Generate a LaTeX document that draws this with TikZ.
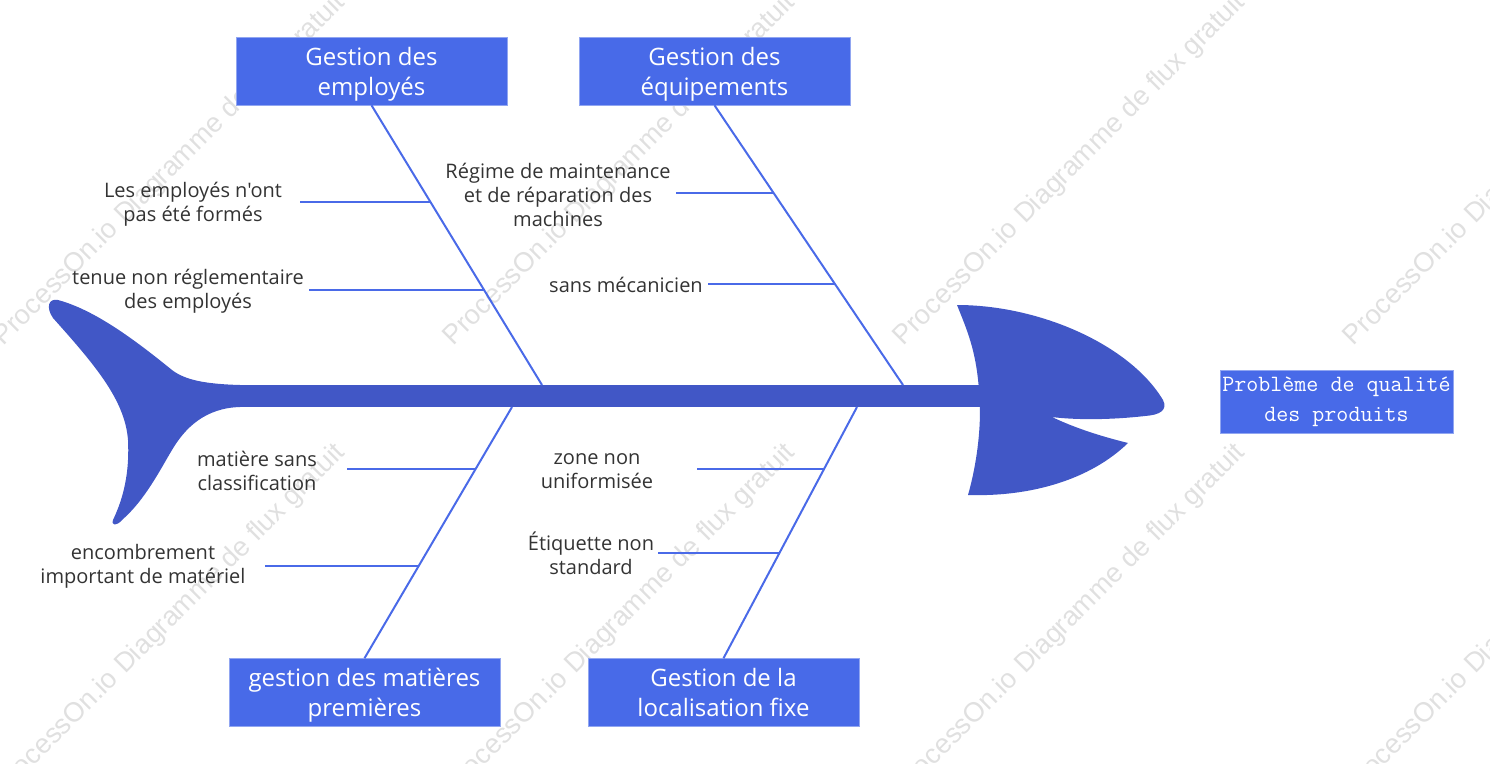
\documentclass[tikz,border=0pt]{standalone}
\usepackage{fontspec}
\setmainfont{Open Sans}
\newfontfamily\labfont{Open Sans}
\newfontfamily\wmfont{Liberation Sans}
\definecolor{fishblue}{HTML}{4157C6}
\definecolor{boxblue}{HTML}{486AE8}
\definecolor{bonecol}{HTML}{4A6AE8}
\definecolor{txt}{HTML}{333333}
\definecolor{wmgray}{HTML}{E0E0E0}
\newcommand\boxtxt[1]{\raisebox{-2.5pt}[\height][\depth]{\begin{tabular}{@{}c@{}}#1\end{tabular}}}
\begin{document}
\begin{tikzpicture}[x=0.75pt,y=-0.75pt,
  catbox/.style={fill=boxblue, draw=boxblue!60!white, line width=0.4pt, text=white,
    minimum width=203pt, minimum height=51pt, inner sep=0pt,
    font=\fontsize{18}{22.5}\selectfont},
  probbox/.style={fill=boxblue, draw=boxblue!60!white, line width=0.4pt, text=white,
    minimum width=175pt, minimum height=47pt, align=center, inner sep=0pt,
    font=\ttfamily\fontsize{17.5}{22.5}\selectfont},
  causetext/.style={text=txt, align=center, inner sep=0pt,
    font=\labfont\fontsize{15}{18}\selectfont},
  bone/.style={draw=bonecol, line width=1.5pt},
  fishbody/.style={fill=fishblue, draw=none},
  wmark/.style={text=wmgray, rotate=45, inner sep=0pt,
    font=\wmfont\fontsize{20.5}{22}\selectfont}]
\useasboundingbox (0,0) rectangle (1490,764);

% watermarks
\foreach \x in {0,450,900,1350}{
  \foreach \y in {170,620}{
    \node[wmark] (wm-\x-\y) at (\x+170,\y) {ProcessOn.io Diagramme de flux gratuit};
  }
}

% spine
\fill[fishbody] (230,385) rectangle (982,407);

% tail
\fill[fishbody] (240,385)
  .. controls (205,384) and (185,380) .. (172,370)
  .. controls (135,340) and (95,310) .. (58,300)
  .. controls (48,298) and (46,308) .. (53,318)
  .. controls (95,365) and (125,400) .. (128,440)
  .. controls (130,480) and (120,505) .. (113,520)
  .. controls (111,526) and (117,526) .. (122,520)
  .. controls (145,500) and (160,470) .. (172,450)
  .. controls (185,428) and (205,408) .. (240,407) -- cycle;

% head
\fill[fishbody] (957,305)
  .. controls (1040,305) and (1130,345) .. (1163,400)
  .. controls (1168,410) and (1160,415) .. (1145,416)
  .. controls (1110,420) and (1075,420) .. (1052,417)
  .. controls (1075,428) and (1100,436) .. (1128,443)
  .. controls (1090,480) and (1030,497) .. (968,495)
  .. controls (978,460) and (982,420) .. (979,390)
  .. controls (976,350) and (967,330) .. (957,305) -- cycle;

% category boxes
\node[catbox] (E) at (371.5,71) {\boxtxt{Gestion des\\employés}};
\node[catbox] (Q) at (714.5,71) {\boxtxt{Gestion des\\équipements}};
\node[catbox] (M) at (364.5,692.5) {\boxtxt{gestion des matières\\premières}};
\node[catbox] (L) at (723.5,692.5) {\boxtxt{Gestion de la\\localisation fixe}};
\node[probbox] (P) at (1336.5,401.5) {Problème de qualité\\des produits};

% junctions on spine
\coordinate (jE) at (542,385);
\coordinate (jQ) at (903,385);
\coordinate (jM) at (512,407);
\coordinate (jL) at (857,407);

% main bones
\draw[bone] (E.south) -- coordinate[pos=0.346] (e1) coordinate[pos=0.661] (e2) (jE);
\draw[bone] (Q.south) -- coordinate[pos=0.314] (q1) coordinate[pos=0.639] (q2) (jQ);
\draw[bone] (jM) -- coordinate[pos=0.247] (m1) coordinate[pos=0.633] (m2) (M.north);
\draw[bone] (jL) -- coordinate[pos=0.247] (l1) coordinate[pos=0.580] (l2) (L.north);

% sub bones
\draw[bone] (e1) -- ++(-130,0);
\draw[bone] (e2) -- ++(-175,0);
\draw[bone] (q1) -- ++(-98,0);
\draw[bone] (q2) -- ++(-127,0);
\draw[bone] (m1) -- ++(-129,0);
\draw[bone] (m2) -- ++(-154,0);
\draw[bone] (l1) -- ++(-127,0);
\draw[bone] (l2) -- ++(-122,0);

% cause texts
\node[causetext] (t1) at (193,204) {Les employés n'ont\\pas été formés};
\node[causetext] (t2) at (188,291) {tenue non réglementaire\\des employés};
\node[causetext] (t3) at (558,195) {Régime de maintenance\\et de réparation des\\machines};
\node[causetext] (t4) at (626,285) {sans mécanicien};
\node[causetext] (t5) at (257,471) {matière sans\\classification};
\node[causetext] (t6) at (143,566) {encombrement\\important de matériel};
\node[causetext] (t7) at (597,471) {zone non\\uniformisée};
\node[causetext] (t8) at (591,553) {Étiquette non\\standard};
\end{tikzpicture}
\end{document}
